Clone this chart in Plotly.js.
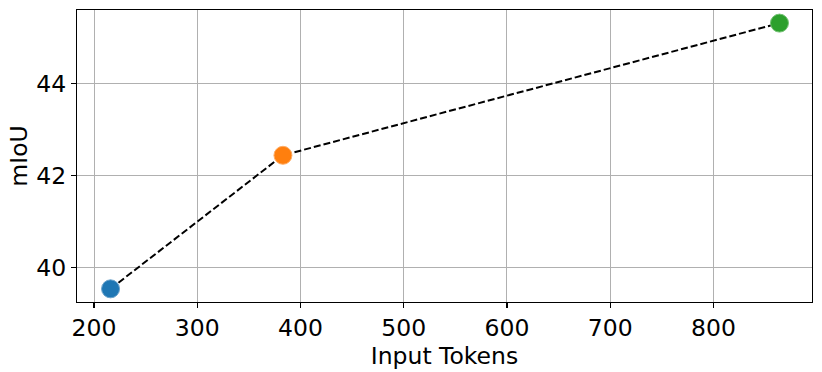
<!DOCTYPE html>
<html>
<head>
<meta charset="utf-8">
<script src="https://cdn.plot.ly/plotly-3.0.1.min.js"></script>
<style>html,body{margin:0;padding:0;background:#fff;}#chart{width:822px;height:372px;}</style>
</head>
<body>
<div id="chart"></div>
<script>
const inputTokens = [216, 383, 864];
const miou = [39.54, 42.44, 45.31];
const pointColors = ['#1f77b4', '#ff7f0e', '#2ca02c'];
const edgeColors = ['#6aa3cc', '#ffad66', '#74c274'];
const xTicks = [200, 300, 400, 500, 600, 700, 800];
const yTicks = [40, 42, 44];

const font = {family: 'DejaVu Sans, sans-serif', size: 23.5, color: '#000'};

const traces = [{
  x: inputTokens, y: miou,
  mode: 'lines+markers', type: 'scatter',
  line: {color: '#000', width: 2, dash: '7px,3px'},
  marker: {size: 18, color: pointColors, line: {color: edgeColors, width: 1}},
  showlegend: false, hoverinfo: 'skip'
}];

const axisCommon = {
  showline: true, mirror: true, linecolor: '#000', linewidth: 1.2,
  ticks: 'outside', ticklen: 5, tickwidth: 1.2, tickcolor: '#000',
  showgrid: true, gridcolor: '#b0b0b0', gridwidth: 1,
  zeroline: false, tickfont: font
};

const layout = {
  width: 822, height: 372,
  margin: {l: 77, r: 10, t: 10, b: 70},
  paper_bgcolor: '#fff', plot_bgcolor: '#fff',
  font: font,
  xaxis: Object.assign({}, axisCommon, {
    range: [183.5, 895.5], tickvals: xTicks, ticktext: xTicks.map(String),
    title: {text: 'Input Tokens', font: font, standoff: 0}
  }),
  yaxis: Object.assign({}, axisCommon, {
    range: [39.254, 45.595], tickvals: yTicks, ticktext: yTicks.map(String),
    title: {text: 'mIoU', font: font, standoff: 2}
  })
};

Plotly.newPlot('chart', traces, layout, {displayModeBar: false, staticPlot: true});
</script>
</body>
</html>
